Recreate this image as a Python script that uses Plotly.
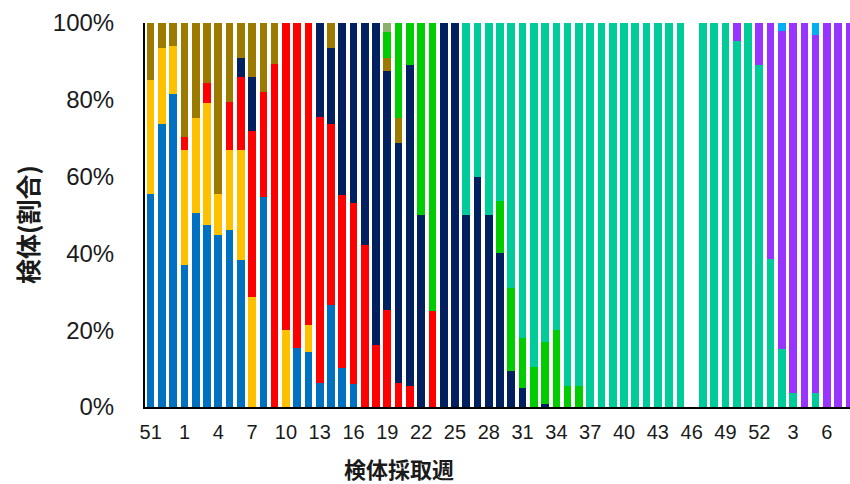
import plotly.graph_objects as go

# Week labels (2020 wk51 .. 2022 wk8); index position = order of sampling week
week_labels = [51, 52, 53,
               1, 2, 3, 4, 5, 6, 7, 8, 9, 10, 11, 12, 13, 14, 15, 16, 17, 18, 19, 20,
               21, 22, 23, 24, 25, 26, 27, 28, 29, 30, 31, 32, 33, 34, 35, 36, 37, 38,
               39, 40, 41, 42, 43, 44, 45, 46, 47, 48, 49, 50, 51, 52,
               1, 2, 3, 4, 5, 6, 7, 8]

#           0     1     2     3     4     5     6     7     8     9
blue   = [55.4, 73.6, 81.5, 37.0, 50.4, 47.5, 44.7, 46.0, 38.2, 0,
          54.7, 0, 0, 15.3, 14.3, 6.2, 26.6, 10.1, 6.0, 0,
          0, 0, 0, 0, 0, 0, 0, 0, 0, 0,
          0, 0, 0, 0, 0, 0, 0, 0, 0, 0,
          0, 0, 0, 0, 0, 0, 0, 0, 0, 0,
          0, 0, 0, 0, 0, 0, 0, 0, 0, 0,
          0, 0, 0]
yellow = [29.7, 19.8, 12.5, 29.8, 24.8, 31.6, 10.9, 20.8, 28.6, 28.6,
          0, 0, 20.1, 0, 7.1, 0, 0, 0, 0, 0,
          0, 0, 0, 0, 0, 0, 0, 0, 0, 0,
          0, 0, 0, 0, 0, 0, 0, 0, 0, 0,
          0, 0, 0, 0, 0, 0, 0, 0, 0, 0,
          0, 0, 0, 0, 0, 0, 0, 0, 0, 0,
          0, 0, 0]
red    = [0, 0, 0, 3.5, 0, 5.4, 0, 12.7, 19.2, 43.3,
          27.4, 89.3, 79.9, 84.7, 78.6, 69.2, 47.0, 45.1, 47.2, 42.3,
          16.2, 25.3, 6.2, 5.6, 0, 25.0, 0, 0, 0, 0,
          0, 0, 0, 0, 0, 0, 0, 0, 0, 0,
          0, 0, 0, 0, 0, 0, 0, 0, 0, 0,
          0, 0, 0, 0, 0, 0, 0, 0, 0, 0,
          0, 0, 0]
navy   = [0, 0, 0, 0, 0, 0, 0, 0, 4.8, 14.1,
          0, 0, 0, 0, 0, 24.6, 19.8, 44.8, 46.8, 57.7,
          83.8, 62.2, 62.6, 83.4, 50.0, 0, 100, 100, 50.0, 60.0,
          50.0, 40.0, 9.4, 5.0, 0, 0.8, 0, 0, 0, 0,
          0, 0, 0, 0, 0, 0, 0, 0, 0, 0,
          0, 0, 0, 0, 0, 0, 0, 0, 0, 0,
          0, 0, 0]
olive  = [14.9, 6.6, 6.0, 29.7, 24.8, 15.5, 44.4, 20.5, 9.2, 14.0,
          17.9, 10.7, 0, 0, 0, 0, 6.6, 0, 0, 0,
          0, 3.5, 6.4, 0, 0, 0, 0, 0, 0, 0,
          0, 0, 0, 0, 0, 0, 0, 0, 0, 0,
          0, 0, 0, 0, 0, 0, 0, 0, 0, 0,
          0, 0, 0, 0, 0, 0, 0, 0, 0, 0,
          0, 0, 0]
green  = [0, 0, 0, 0, 0, 0, 0, 0, 0, 0,
          0, 0, 0, 0, 0, 0, 0, 0, 0, 0,
          0, 6.6, 24.8, 11.0, 50.0, 75.0, 0, 0, 0, 0,
          0, 13.6, 21.6, 13.1, 10.3, 16.2, 20.1, 5.6, 5.6, 0,
          0, 0, 0, 0, 0, 0, 0, 0, 0, 0,
          0, 0, 0, 0, 0, 0, 0, 0, 0, 0,
          0, 0, 0]
graygreen = [0, 0, 0, 0, 0, 0, 0, 0, 0, 0,
             0, 0, 0, 0, 0, 0, 0, 0, 0, 0,
             0, 2.4, 0, 0, 0, 0, 0, 0, 0, 0,
             0, 0, 0, 0, 0, 0, 0, 0, 0, 0,
             0, 0, 0, 0, 0, 0, 0, 0, 0, 0,
             0, 0, 0, 0, 0, 0, 0, 0, 0, 0,
             0, 0, 0]
teal   = [0, 0, 0, 0, 0, 0, 0, 0, 0, 0,
          0, 0, 0, 0, 0, 0, 0, 0, 0, 0,
          0, 0, 0, 0, 0, 0, 0, 0, 50.0, 40.0,
          50.0, 46.4, 69.0, 81.9, 89.7, 83.0, 79.9, 94.4, 94.4, 100,
          100, 100, 100, 100, 100, 100, 100, 100, 0, 100,
          100, 100, 95.4, 100, 89.0, 38.6, 15.1, 3.6, 0, 3.6,
          0, 0, 0]
purple = [0, 0, 0, 0, 0, 0, 0, 0, 0, 0,
          0, 0, 0, 0, 0, 0, 0, 0, 0, 0,
          0, 0, 0, 0, 0, 0, 0, 0, 0, 0,
          0, 0, 0, 0, 0, 0, 0, 0, 0, 0,
          0, 0, 0, 0, 0, 0, 0, 0, 0, 0,
          0, 0, 4.6, 0, 11.0, 61.4, 82.9, 96.4, 100, 93.3,
          100, 100, 100]
lightblue = [0, 0, 0, 0, 0, 0, 0, 0, 0, 0,
             0, 0, 0, 0, 0, 0, 0, 0, 0, 0,
             0, 0, 0, 0, 0, 0, 0, 0, 0, 0,
             0, 0, 0, 0, 0, 0, 0, 0, 0, 0,
             0, 0, 0, 0, 0, 0, 0, 0, 0, 0,
             0, 0, 0, 0, 0, 0, 2.0, 0, 0, 3.1,
             0, 0, 0]

y_ticks = [0, 20, 40, 60, 80, 100]
y_ticktext = ["0%", "20%", "40%", "60%", "80%", "100%"]

series = [
    ("系統A", blue, "#0070C0"),
    ("系統B", yellow, "#FFC000"),
    ("系統C", red, "#FF0000"),
    ("系統D", navy, "#002060"),
    ("系統E", olive, "#9C7A00"),
    ("系統F", green, "#00CC00"),
    ("系統G", graygreen, "#8DAF6C"),
    ("系統H", teal, "#00CC99"),
    ("系統I", purple, "#9933FF"),
    ("系統J", lightblue, "#00B0F0"),
]

n = len(week_labels)
for _, vals, _ in series:
    assert len(vals) == n, len(vals)

x = list(range(n))

fig = go.Figure()
for name, vals, color in series:
    fig.add_bar(x=x, y=vals, name=name, marker_color=color, marker_line_width=0)

fig.update_layout(
    barmode="stack",
    bargap=0.32,
    width=850,
    height=484,
    margin=dict(l=145, r=0, t=23, b=77),
    plot_bgcolor="white",
    paper_bgcolor="white",
    showlegend=False,
    xaxis=dict(
        range=[-0.5, 62.05],
        tickmode="array",
        tickvals=x[::3],
        ticktext=[str(w) for w in week_labels[::3]],
        showline=True, linecolor="black", linewidth=2,
        showgrid=False, zeroline=False, ticks="",
        tickfont=dict(family="Liberation Sans Narrow, Liberation Sans, Arial", size=20, color="#1a1a1a"),
        ticklabelstandoff=6,
    ),
    yaxis=dict(
        range=[0, 100],
        tickmode="array",
        tickvals=y_ticks,
        ticktext=y_ticktext,
        showline=True, linecolor="black", linewidth=2,
        showgrid=False, zeroline=False, ticks="",
        tickfont=dict(family="Liberation Sans, Arial", size=24, color="#1a1a1a"),
        ticklabelstandoff=24,
    ),
    annotations=[
        dict(text="<b>検体採取週</b>", xref="paper", yref="paper",
             x=(399 - 145) / 705, y=(407 - 468) / 384,
             xanchor="center", yanchor="middle", showarrow=False,
             font=dict(family="Noto Sans CJK JP", size=22, color="#1a1a1a")),
        dict(text="<b>検体(割合)</b>", xref="paper", yref="paper",
             x=(27 - 145) / 705, y=(407 - 225) / 384, textangle=-90,
             xanchor="center", yanchor="middle", showarrow=False,
             font=dict(family="Noto Sans CJK JP", size=25, color="#1a1a1a")),
    ],
)

fig.write_html(
    "out.html",
    config={"displayModeBar": False},
    post_script="document.body.style.margin='0';document.body.style.overflow='hidden';",
)
